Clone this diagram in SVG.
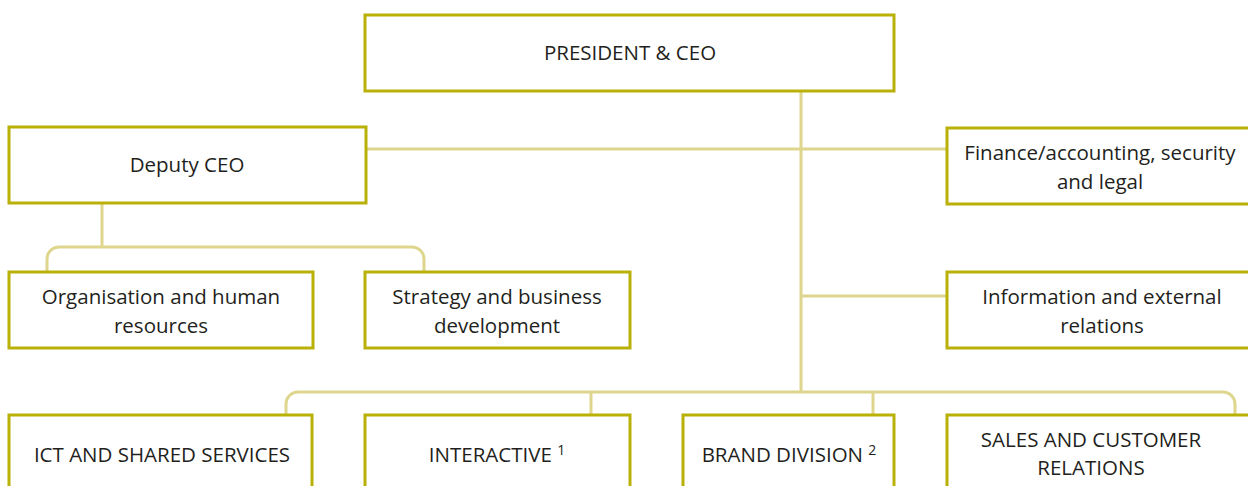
<svg xmlns="http://www.w3.org/2000/svg" width="1248" height="486" viewBox="0 0 1248 486">
  <style>
    .box { fill: #ffffff; stroke: #b9b008; stroke-width: 3; }
    .wire { fill: none; stroke: #ddd68c; stroke-width: 3; }
    .lbl { font-family: "Open Sans", "Liberation Sans", sans-serif; font-size: 20.5px; fill: #231f20; text-anchor: middle; }
    .sup { font-size: 14px; }
  </style>
  <rect width="1248" height="486" fill="#ffffff"/>

  <!-- connectors -->
  <g id="connectors">
    <!-- president trunk -->
    <path class="wire" d="M801 91 V392"/>
    <path class="wire" d="M366 149 H947"/>
    <path class="wire" d="M801 296 H947"/>
    <!-- division bus -->
    <path class="wire" d="M286 415 V404 A12 12 0 0 1 298 392 H1223 A12 12 0 0 1 1235 404 V415"/>
    <path class="wire" d="M591 392 V415"/>
    <path class="wire" d="M873 392 V415"/>
    <!-- deputy branch -->
    <path class="wire" d="M102 203 V247"/>
    <path class="wire" d="M47 272 V259 A12 12 0 0 1 59 247 H412 A12 12 0 0 1 424 259 V272"/>
  </g>

  <g id="president">
    <rect class="box" x="365" y="15" width="529" height="76"/>
    <text class="lbl" x="630" y="60">PRESIDENT &amp; CEO</text>
  </g>

  <g id="deputy">
    <rect class="box" x="9" y="127" width="357" height="76"/>
    <text class="lbl" x="187" y="172">Deputy CEO</text>
  </g>

  <g id="finance">
    <rect class="box" x="947" y="128" width="310" height="76"/>
    <text class="lbl" x="1100" y="160">Finance/accounting, security</text>
    <text class="lbl" x="1100" y="189">and legal</text>
  </g>

  <g id="organisation">
    <rect class="box" x="9" y="272" width="304" height="76"/>
    <text class="lbl" x="161" y="304">Organisation and human</text>
    <text class="lbl" x="161" y="333">resources</text>
  </g>

  <g id="strategy">
    <rect class="box" x="365" y="272" width="265" height="76"/>
    <text class="lbl" x="497" y="304">Strategy and business</text>
    <text class="lbl" x="497" y="333">development</text>
  </g>

  <g id="information">
    <rect class="box" x="947" y="272" width="310" height="76"/>
    <text class="lbl" x="1102" y="304">Information and external</text>
    <text class="lbl" x="1102" y="333">relations</text>
  </g>

  <g id="ict">
    <rect class="box" x="9" y="415" width="303" height="90"/>
    <text class="lbl" x="162" y="462">ICT AND SHARED SERVICES</text>
  </g>

  <g id="interactive">
    <rect class="box" x="365" y="415" width="265" height="90"/>
    <text class="lbl" x="497" y="462">INTERACTIVE <tspan class="sup" dy="-7">1</tspan></text>
  </g>

  <g id="brand">
    <rect class="box" x="683" y="415" width="211" height="90"/>
    <text class="lbl" x="789" y="462">BRAND DIVISION <tspan class="sup" dy="-7">2</tspan></text>
  </g>

  <g id="sales">
    <rect class="box" x="947" y="415" width="310" height="90"/>
    <text class="lbl" x="1091" y="447">SALES AND CUSTOMER</text>
    <text class="lbl" x="1091" y="475">RELATIONS</text>
  </g>
</svg>
